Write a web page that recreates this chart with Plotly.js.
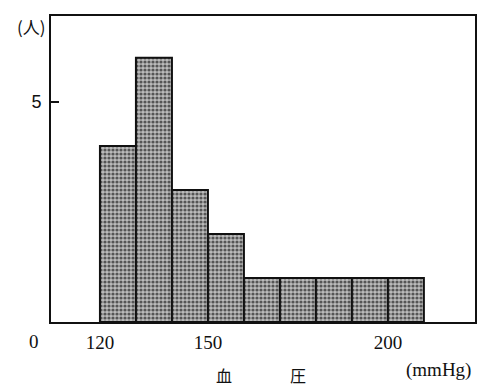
<!DOCTYPE html>
<html><head><meta charset="utf-8">
<script src="https://cdn.plot.ly/plotly-3.0.1.min.js"></script>
<style>html,body{margin:0;padding:0;background:#fff}#c{width:494px;height:386px}</style>
</head><body><div id="c"></div>
<script>
const binStarts = [120,130,140,150,160,170,180,190,200];
const counts = [4,6,3,2,1,1,1,1,1];
const binWidth = 10;
const xTickVals = [120,150,200];
const xTickText = ['120','150','200'];
const yTickVals = [5];
const yTickText = ['5'];

const xs = binStarts.map(b => b + binWidth/2);
const trace = {
  type:'bar', x: xs, y: counts, width: binStarts.map(()=>binWidth),
  marker:{color:'#9c9c9c', line:{color:'#111', width:2},
    pattern:{shape:'.', fgcolor:'#555', bgcolor:'#bcbcbc', size:4, solidity:0.5}},
  hoverinfo:'none'
};
const serif = 'Liberation Serif, DejaVu Serif, serif';
const layout = {
  width:494, height:386,
  margin:{l:51, r:19, t:16, b:64},
  paper_bgcolor:'#fff', plot_bgcolor:'#fff',
  showlegend:false, bargap:0,
  xaxis:{range:[106.4,224.2], tickvals:xTickVals, ticktext:xTickText, ticks:'',
    showgrid:false, zeroline:false, showline:true, mirror:true, linecolor:'#111', linewidth:2,
    tickfont:{family:serif, size:19, color:'#111'}, ticklabelstandoff:2},
  yaxis:{range:[0,6.95], tickvals:yTickVals, ticktext:yTickText, ticks:'inside', ticklen:8, tickwidth:1.5, tickcolor:'#111',
    showgrid:false, zeroline:false, showline:true, mirror:true, linecolor:'#111', linewidth:2,
    tickfont:{family:'Liberation Sans, Arial, sans-serif', size:18, color:'#111'}, ticklabelstandoff:4},
  annotations:[
    {text:'(人)', xref:'paper', yref:'paper', x:-0.008, y:1.0, xanchor:'right', yanchor:'middle', yshift:-10, showarrow:false,
     font:{family:'Noto Sans CJK JP', size:17, color:'#111'}},
    {text:'0', xref:'paper', yref:'y', x:-0.04, y:0, xanchor:'center', yanchor:'top', yshift:-7, showarrow:false,
     font:{family:serif, size:19, color:'#111'}},
    {text:'血', xref:'x', yref:'paper', x:154.5, y:0, yanchor:'middle', yshift:-53, showarrow:false,
     font:{family:'Noto Sans CJK JP', size:16, color:'#111'}},
    {text:'圧', xref:'x', yref:'paper', x:175, y:0, yanchor:'middle', yshift:-53, showarrow:false,
     font:{family:'Noto Sans CJK JP', size:16, color:'#111'}},
    {text:'(mmHg)', xref:'x', yref:'paper', x:214, y:0, yanchor:'middle', yshift:-48, showarrow:false,
     font:{family:serif, size:19, color:'#111'}}
  ]
};
Plotly.newPlot('c',[trace],layout,{staticPlot:true});
</script></body></html>
